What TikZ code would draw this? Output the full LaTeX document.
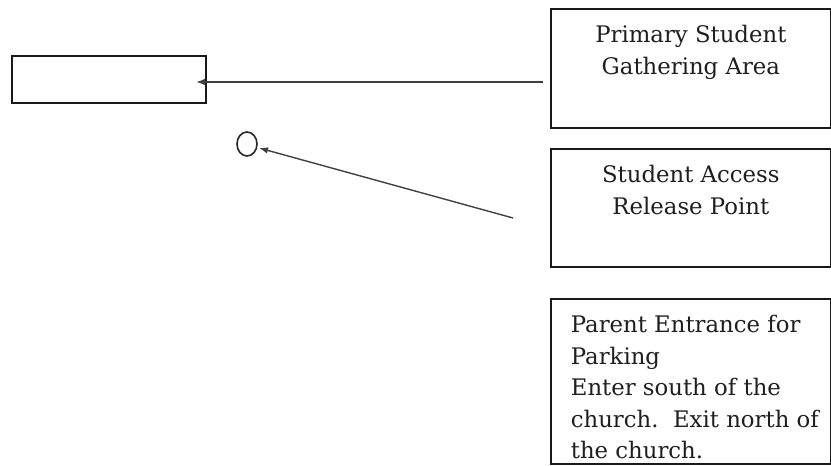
\documentclass[tikz,border=0pt]{standalone}
\usepackage{fontspec}
\setmainfont{DejaVu Serif}
\usetikzlibrary{arrows.meta,shapes.geometric}
\tikzset{
  blankbox/.style={draw=black!90, line width=1.7bp, rectangle, inner sep=0pt, fill=white},
  conn/.style={draw=black!75, line width=1.4bp, -{Latex[length=9bp,width=6.5bp]}},
  marker/.style={draw=black!85, line width=1.6bp, ellipse, inner sep=0pt, minimum width=20bp, minimum height=24bp}
}
\newcommand{\boxfont}{\fontsize{22.8bp}{31.5bp}\selectfont}
\begin{document}
\begin{tikzpicture}[x=1bp,y=-1bp]
\useasboundingbox (0,0) rectangle (831,466);
% left blank box
\node[blankbox, minimum width=194bp, minimum height=47bp] (lbox) at (109,79.5) {};
% right boxes
\node[blankbox, anchor=north west] (pri) at (550,8)
  {\parbox[c][119bp][t]{280bp}{\boxfont\color{black!88}\centering\rule{0pt}{34bp}Primary Student\\Gathering Area}};
\node[blankbox, anchor=north west] (sar) at (550,148)
  {\parbox[c][118bp][t]{280bp}{\boxfont\color{black!88}\centering\rule{0pt}{34bp}Student Access\\Release Point}};
\node[blankbox, anchor=north west] (par) at (550,298)
  {\parbox[c][165bp][t]{280bp}{\boxfont\color{black!88}\raggedright\leftskip=20bp\rule{0pt}{34bp}Parent Entrance for\\Parking\\Enter south of the\\church.\ \ Exit north of\\the church.}};
% circle marker
\node[marker] (circ) at (247,144) {};
% connectors
\coordinate (a1s) at (543,82);
\coordinate (a1e) at (196,82);
\coordinate (a2s) at (513,218);
\coordinate (a2e) at (259,148);
\draw[conn] (a1s) -- (a1e);
\draw[conn] (a2s) -- (a2e);
\end{tikzpicture}
\end{document}
